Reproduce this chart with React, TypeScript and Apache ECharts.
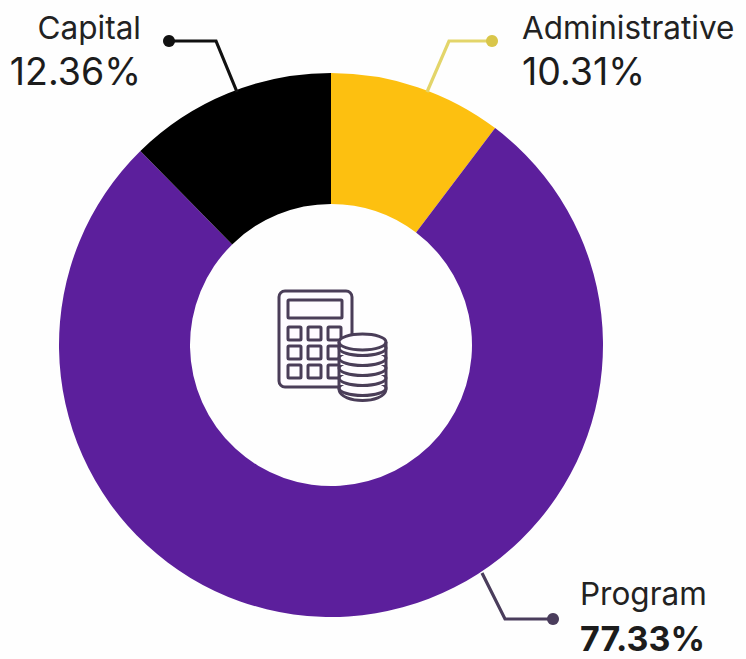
import React, { useEffect, useRef } from "react";
import * as echarts from "echarts";

const categories = ["Administrative", "Program", "Capital"];
const shares = [10.31, 77.33, 12.36];
const colors = ["#FDC010", "#5C1F9C", "#000000"];

const FONT = "Inter, 'Noto Sans', sans-serif";
const CX = 331;
const CY = 345;
const ICON = "#4A3D58";

const labelBoxes = [
  { x: 522, y: 5, align: "left" },
  { x: 580, y: 568, align: "left" },
  { x: 141, y: 5, align: "right" },
];

const leaders = [
  { pts: [[427, 92], [449, 41], [492, 41]], color: "#E3D56A", dot: "#D9C64A" },
  { pts: [[482, 573], [505, 619], [553, 619]], color: "#4A3D5C", dot: "#4A3D5C" },
  { pts: [[237, 92], [216, 41], [169, 41]], color: "#111111", dot: "#111111" },
];

function icon(): any[] {
  const s = { stroke: ICON, lineWidth: 3, fill: "none" };
  const out: any[] = [
    { type: "rect", shape: { x: 279, y: 291, width: 73, height: 96, r: 6 }, style: { ...s, fill: "#FEFBFF" } },
    { type: "rect", shape: { x: 288, y: 300, width: 54, height: 18, r: 1 }, style: s },
  ];
  [288, 308, 328].forEach((x) =>
    [327, 346, 365].forEach((y) =>
      out.push({ type: "rect", shape: { x, y, width: 13, height: 13, r: 1 }, style: s }),
    ),
  );
  [395, 385, 375, 365, 355].forEach((y) => {
    out.push({
      type: "rect",
      shape: { x: 339, y: y - 8, width: 47, height: 8 },
      style: { fill: "#FEFBFF", stroke: "none" },
    });
    out.push({
      type: "ellipse",
      shape: { cx: 362.5, cy: y - 7, rx: 23.5, ry: 7.5 },
      style: { ...s, fill: "#FEFBFF" },
    });
  });
  out.push({
    type: "ellipse",
    shape: { cx: 362.5, cy: 342, rx: 23.5, ry: 8 },
    style: { ...s, fill: "#FEFBFF" },
  });
  out.push({ type: "line", shape: { x1: 339, y1: 342, x2: 339, y2: 390 }, style: s });
  out.push({ type: "line", shape: { x1: 386, y1: 342, x2: 386, y2: 390 }, style: s });
  out.push({
    type: "bezierCurve",
    shape: { x1: 339, y1: 390, cpx1: 342, cpy1: 404, cpx2: 383, cpy2: 404, x2: 386, y2: 390 },
    style: s,
  });
  return out;
}

export default function App() {
  const ref = useRef<HTMLDivElement>(null);
  useEffect(() => {
    document.body.style.margin = "0";
    const chart = echarts.init(ref.current!, null, { renderer: "svg" });
    const graphic: any[] = [];
    leaders.forEach((l) => {
      graphic.push({
        type: "polyline",
        z: 20,
        shape: { points: l.pts },
        style: { stroke: l.color, lineWidth: 3.2, fill: "none" },
      });
      const end = l.pts[l.pts.length - 1];
      graphic.push({
        type: "circle",
        z: 20,
        shape: { cx: end[0], cy: end[1], r: 6 },
        style: { fill: l.dot },
      });
    });
    icon().forEach((e) => graphic.push({ ...e, z: 10 }));
    chart.setOption({
      animation: false,
      backgroundColor: "#FEFEFE",
      graphic,
      series: [
        {
          type: "pie",
          center: [CX, CY],
          radius: [141, 272],
          startAngle: 90,
          clockwise: true,
          silent: true,
          data: categories.map((name, i) => ({
            name,
            value: shares[i],
            itemStyle: { color: colors[i] },
            label: {
              rich: {
                n: {
                  fontFamily: FONT,
                  fontSize: 31.5,
                  lineHeight: name === "Program" ? 50 : 44,
                  color: "#222222",
                  align: labelBoxes[i].align,
                },
                v: {
                  fontFamily: FONT,
                  fontSize: name === "Program" ? 34 : 37.5,
                  lineHeight: name === "Program" ? 40 : 44,
                  color: "#1C1C1C",
                  fontWeight: name === "Program" ? 700 : 400,
                  align: labelBoxes[i].align,
                },
              },
            },
          })),
          label: {
            show: true,
            position: "outside",
            formatter: (p: any) => `{n|${p.name}}\n{v|${shares[p.dataIndex].toFixed(2)}%}`,
          },
          labelLine: { show: false },
          labelLayout: (p: any) => ({
            x: labelBoxes[p.dataIndex].x,
            y: labelBoxes[p.dataIndex].y,
            align: labelBoxes[p.dataIndex].align,
            verticalAlign: "top",
          }),
        },
      ],
    });
    return () => chart.dispose();
  }, []);
  return <div ref={ref} style={{ width: 746, height: 659 }} />;
}
